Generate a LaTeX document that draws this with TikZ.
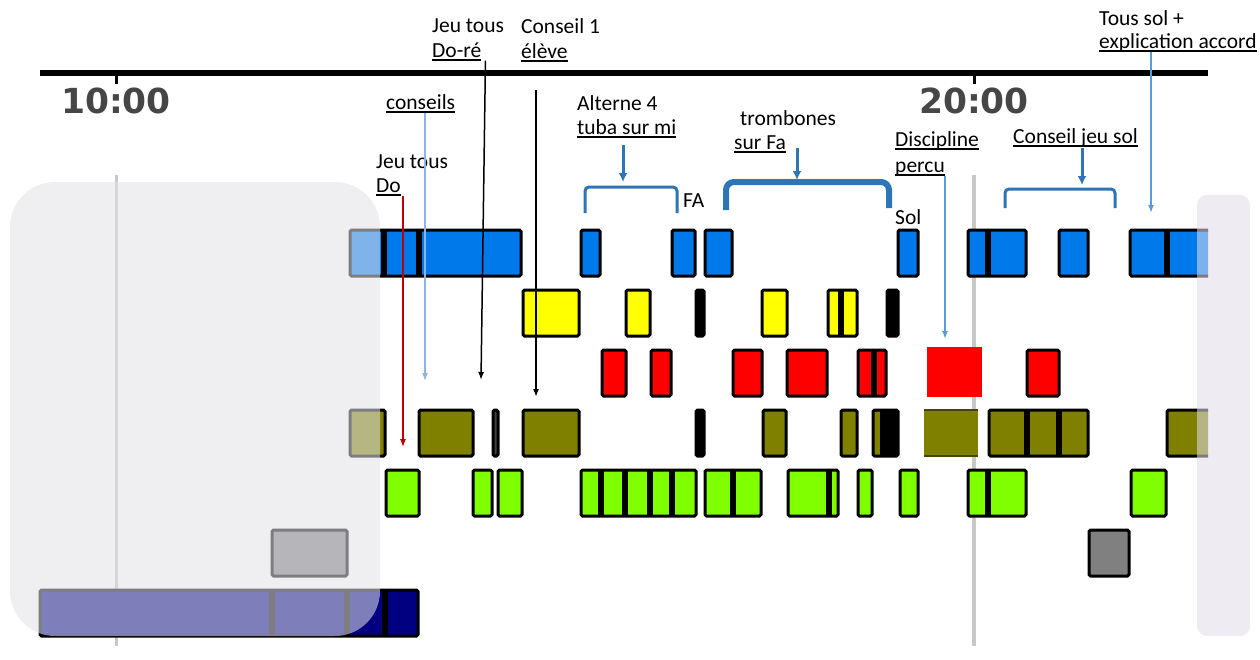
\documentclass[tikz,border=0pt]{standalone}
\usepackage{fontspec}
\setmainfont{Carlito}
\newfontfamily\clockfont{DejaVu Sans}
\usetikzlibrary{arrows.meta}

\newcommand{\undertext}[1]{\leavevmode\setbox0\hbox{#1}\rlap{\rule[-3.5pt]{\wd0}{1.3pt}}\box0}

\definecolor{barblue}{RGB}{0,122,235}
\definecolor{baryellow}{RGB}{255,255,0}
\definecolor{barred}{RGB}{255,0,0}
\definecolor{barolive}{RGB}{128,128,0}
\definecolor{bargreen}{RGB}{128,255,0}
\definecolor{bargray}{RGB}{128,128,128}
\definecolor{barnavy}{RGB}{0,0,128}
\definecolor{notered}{RGB}{192,0,0}
\definecolor{notepale}{RGB}{142,180,227}
\definecolor{notesteel}{RGB}{46,117,182}
\definecolor{notesky}{RGB}{91,155,213}
\definecolor{clockgray}{RGB}{70,70,70}
\definecolor{veilgray}{RGB}{226,226,232}
\definecolor{veillav}{RGB}{225,221,232}
\definecolor{gridgray}{RGB}{200,200,200}

\tikzset{
  box/.style={draw=black, line width=3pt, rounded corners=1.5pt},
  sep/.style={line width=6pt},
  lbl/.style={anchor=base west, inner sep=0pt, font=\fontsize{21.5}{26}\selectfont},
  clock/.style={font=\clockfont\bfseries\fontsize{34.5}{38}\selectfont, text=clockgray},
  veil/.style={opacity=0.56},
  brace/.style={notesteel, line width=3pt, rounded corners=4pt},
  shortarr/.style={->, notesteel, line width=3pt, >={Latex[length=9pt,width=9pt]}}
}

\begin{document}
\begin{tikzpicture}[x=1pt, y=-1pt, >={Latex[length=8pt,width=6pt]}]
    \useasboundingbox (0,0) rectangle (1260,659);

    % grid lines
    \draw[gridgray, line width=3pt] (116,175) -- (116,646);
    \draw[gridgray, line width=4pt] (974,175) -- (974,646);

    % time axis
    \draw[line width=6pt] (40,73) -- (1208,73);
    \draw[line width=3pt] (116,73) -- (116,84);
    \draw[line width=3pt] (974,73) -- (974,84);
    \node[clock] (t10) at (116,101) {10:00};
    \node[clock] (t20) at (974,101) {20:00};

    \begin{scope}
    \clip (0,0) rectangle (1208,659);
    % blue row
    \foreach \a/\b in {350/521, 581/600, 672/695, 705/732, 898/918, 968/1026, 1059/1088, 1130/1220}
        \draw[box, fill=barblue] (\a,230) rectangle (\b,276);
    \foreach \d in {384, 419, 988, 1167}
        \draw[sep] (\d,230) -- (\d,276);
    % yellow row
    \foreach \a/\b in {523/579, 626/650, 762/787, 828/857}
        \draw[box, fill=baryellow] (\a,290) rectangle (\b,336);
    \foreach \a/\b in {696/704, 887/898}
        \draw[box, fill=black] (\a,290) rectangle (\b,336);
    \draw[sep] (841,290) -- (841,336);
    % red row
    \foreach \a/\b in {602/626, 651/671, 733/762, 787/827, 858/886, 1027/1059}
        \draw[box, fill=barred] (\a,350) rectangle (\b,396);
    \draw[sep] (874,350) -- (874,396);
    \fill[barred] (927,347) rectangle (982,397);
    % olive row
    \foreach \a/\b in {350/385, 419/473, 523/579, 763/786, 841/857, 873/898, 989/1088, 1167/1220}
        \draw[box, fill=barolive] (\a,410) rectangle (\b,456);
    \draw[box, fill=black!75] (493,410) rectangle (498,456);
    \draw[box, fill=black] (696,410) rectangle (704,456);
    \fill (880,410) rectangle (898,456);
    \foreach \d in {1027, 1059}
        \draw[sep] (\d,410) -- (\d,456);
    \fill[barolive] (924,409) rectangle (978,457);
    \draw[barolive!55!black, line width=1.5pt] (924,410) -- (978,410) (924,456) -- (978,456);
    % green row
    \foreach \a/\b in {386/419, 473/492, 498/522, 581/696, 705/761, 788/838, 858/872, 900/918, 968/1026, 1131/1166}
        \draw[box, fill=bargreen] (\a,470) rectangle (\b,516);
    \foreach \d in {601, 625, 650, 672, 733, 829, 988}
        \draw[sep] (\d,470) -- (\d,516);
    % gray row
    \foreach \a/\b in {272/347, 1089/1129}
        \draw[box, fill=bargray] (\a,530) rectangle (\b,576);
    % navy row
    \draw[box, fill=barnavy] (40,590) rectangle (418,636);
    \foreach \d in {272, 347, 385}
        \draw[sep] (\d,590) -- (\d,636);
    \end{scope}

    % veils
    \fill[veilgray, veil, rounded corners=45pt] (10,182) rectangle (380,636);
    \fill[veillav, veil, rounded corners=10pt] (1197,195) rectangle (1250,636);

    % labels
    \node[lbl] (dore1) at (432,32) {Jeu tous};
    \node[lbl] (dore2) at (432,57) {\undertext{Do-ré}};
    \node[lbl] (eleve1) at (521,33) {Conseil 1};
    \node[lbl] (eleve2) at (521,58) {\undertext{élève}};
    \node[lbl] (conseils) at (386,109) {\undertext{conseils}};
    \node[lbl] (do1) at (376,168) {Jeu tous};
    \node[lbl] (do2) at (376,192) {\undertext{Do}};
    \node[lbl] (tuba1) at (577,110) {Alterne 4};
    \node[lbl] (tuba2) at (577,134) {\undertext{tuba sur mi}};
    \node[lbl] (fa) at (683,207) {FA};
    \node[lbl] (tromb1) at (740,125) {trombones};
    \node[lbl] (tromb2) at (734,149) {\undertext{sur Fa}};
    \node[lbl] (sol) at (895,224) {Sol};
    \node[lbl] (percu1) at (895,146) {\undertext{Discipline}};
    \node[lbl] (percu2) at (895,172) {\undertext{percu}};
    \node[lbl] (jeusol) at (1013,143) {\undertext{Conseil jeu sol}};
    \node[lbl] (accord1) at (1099,25) {Tous sol +};
    \node[lbl] (accord2) at (1099,48) {\undertext{explication accord}};

    % arrow ends
    \coordinate (doTip) at (403,447);
    \coordinate (consTip) at (425,381);
    \coordinate (doreTip) at (481,380);
    \coordinate (eleveTop) at (536,90);
    \coordinate (eleveTip) at (536,397);
    \coordinate (tubaTop) at (623,145);
    \coordinate (tubaTip) at (623,182);
    \coordinate (trombTop) at (797,148);
    \coordinate (trombTip) at (797,180);
    \coordinate (percuTip) at (945,339);
    \coordinate (jeusolTop) at (1082,148);
    \coordinate (jeusolTip) at (1082,185);
    \coordinate (accordTip) at (1151,213);

    % arrows
    \draw[->, notered, line width=1.2pt] (do2.south east -| doTip) -- (doTip);
    \draw[->, notepale, line width=1.5pt] (conseils.south -| consTip) -- (consTip);
    \draw[->, line width=1.5pt] ([xshift=4pt]dore2.south east) -- (doreTip);
    \draw[->, line width=2pt] (eleveTop) -- (eleveTip);
    \draw[shortarr] (tubaTop) -- (tubaTip);
    \draw[shortarr] (trombTop) -- (trombTip);
    \draw[shortarr] (jeusolTop) -- (jeusolTip);
    \draw[->, notesky, line width=2pt] (percu2.south east -| percuTip) -- (percuTip);
    \draw[->, notesky, line width=2pt] (accord2.south -| accordTip) -- (accordTip);

    % brackets
    \draw[brace] (585,213) -- (585,187) -- (677,187) -- (677,213);
    \draw[brace, line width=6pt, rounded corners=8pt] (726,210) -- (726,182) -- (889,182) -- (889,208);
    \draw[brace] (1005,208) -- (1005,189) -- (1115,189) -- (1115,208);
\end{tikzpicture}
\end{document}
